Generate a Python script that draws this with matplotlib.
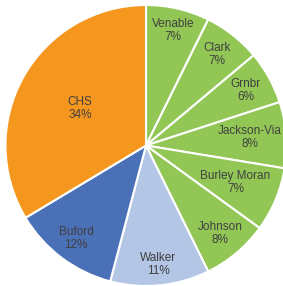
import numpy as np
import matplotlib
matplotlib.use("Agg")
import matplotlib.pyplot as plt

# Slices, clockwise from 12 o'clock
names = ["Venable", "Clark", "Grnbr", "Jackson-Via", "Burley Moran",
         "Johnson", "Walker", "Buford", "CHS"]
shares = [7.3, 6.6, 6.1, 7.6, 7.4, 7.7, 11.4, 12.3, 33.6]

green = "#92C756"
colors = [green] * 6 + ["#B3C6E6", "#4A70B8", "#F5961F"]
# radial position of each label (fraction of radius)
label_r = [0.84, 0.82, 0.81, 0.74, 0.69, 0.82, 0.85, 0.83, 0.54]

plt.rcParams["font.family"] = ["Liberation Sans", "DejaVu Sans"]

fig = plt.figure(figsize=(2.83, 2.86), dpi=100)
ax = fig.add_axes([5.5 / 283, 0.0, 281 / 283, 281 / 286])

wedges, _ = ax.pie(shares, colors=colors, startangle=90, counterclock=False,
                   wedgeprops=dict(edgecolor="white", linewidth=1.5))

for w, name, v, r in zip(wedges, names, shares, label_r):
    mid = np.deg2rad((w.theta1 + w.theta2) / 2)
    ax.text(r * np.cos(mid), r * np.sin(mid), f"{name}\n{round(v)}%",
            ha="center", va="center", fontsize=8.5, color="#404040",
            linespacing=1.1)

ax.set_xlim(-1, 1)
ax.set_ylim(-1, 1)
ax.axis("off")
fig.savefig("out.png", dpi=100)
